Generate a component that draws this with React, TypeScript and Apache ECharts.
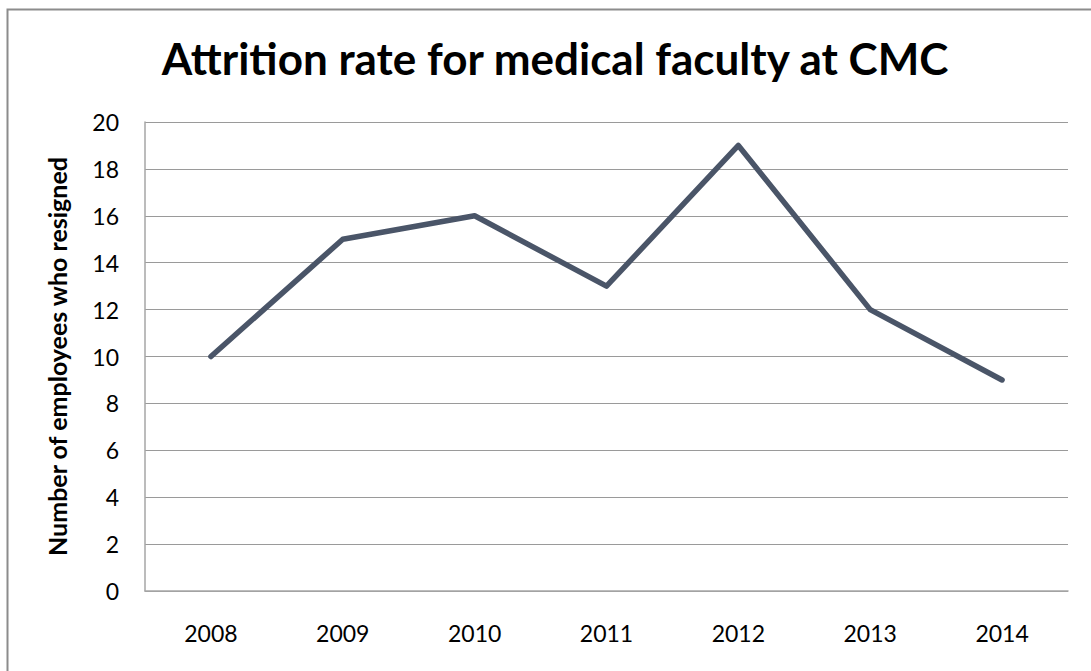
import React, { useEffect, useRef } from "react";
import * as echarts from "echarts";

const titleText = "Attrition rate for medical faculty at CMC";
const yAxisName = "Number of employees who resigned";
const years = ["2008", "2009", "2010", "2011", "2012", "2013", "2014"];
const resigned = [10, 15, 16, 13, 19, 12, 9];

const FONT = "Lato, 'Open Sans', sans-serif";

export default function App() {
  const ref = useRef<HTMLDivElement>(null);
  useEffect(() => {
    if (!ref.current) return;
    const chart = echarts.init(ref.current, undefined, { renderer: "svg" });
    chart.setOption({
      animation: false,
      backgroundColor: "#ffffff",
      title: {
        text: titleText,
        left: 550,
        textAlign: "center",
        top: 31,
        textStyle: { fontFamily: FONT, fontWeight: "bold", fontSize: 44, color: "#000" },
      },
      graphic: [
        {
          type: "rect",
          shape: { x: 7.5, y: 9.5, width: 1200, height: 800 },
          style: { fill: "none", stroke: "#8c8c8c", lineWidth: 2 },
          silent: true,
        },
      ],
      grid: { left: 145, right: 23, top: 122, bottom: 80, containLabel: false },
      xAxis: {
        type: "category",
        data: years,
        boundaryGap: true,
        axisLine: { show: true, lineStyle: { color: "#a6a6a6", width: 1.5 } },
        axisTick: { show: false },
        axisLabel: { fontFamily: FONT, fontSize: 23, color: "#000", margin: 30 },
      },
      yAxis: {
        type: "value",
        min: 0,
        max: 20,
        interval: 2,
        name: yAxisName,
        nameLocation: "middle",
        nameGap: 76,
        nameRotate: 90,
        nameTextStyle: { fontFamily: FONT, fontWeight: "bold", fontSize: 25, color: "#000" },
        axisLine: { show: true, lineStyle: { color: "#a6a6a6", width: 1.5 } },
        axisTick: { show: false },
        splitLine: { show: true, lineStyle: { color: "#9a9a9a", width: 1 } },
        axisLabel: { fontFamily: FONT, fontSize: 23, color: "#000", margin: 26 },
      },
      series: [
        {
          type: "line",
          data: resigned,
          symbol: "none",
          lineStyle: { color: "#4a5568", width: 5.5, cap: "round", join: "round" },
        },
      ],
    });
    return () => chart.dispose();
  }, []);
  return (
    <div
      ref={ref}
      style={{ position: "fixed", left: 0, top: 0, width: 1091, height: 671 }}
    />
  );
}
